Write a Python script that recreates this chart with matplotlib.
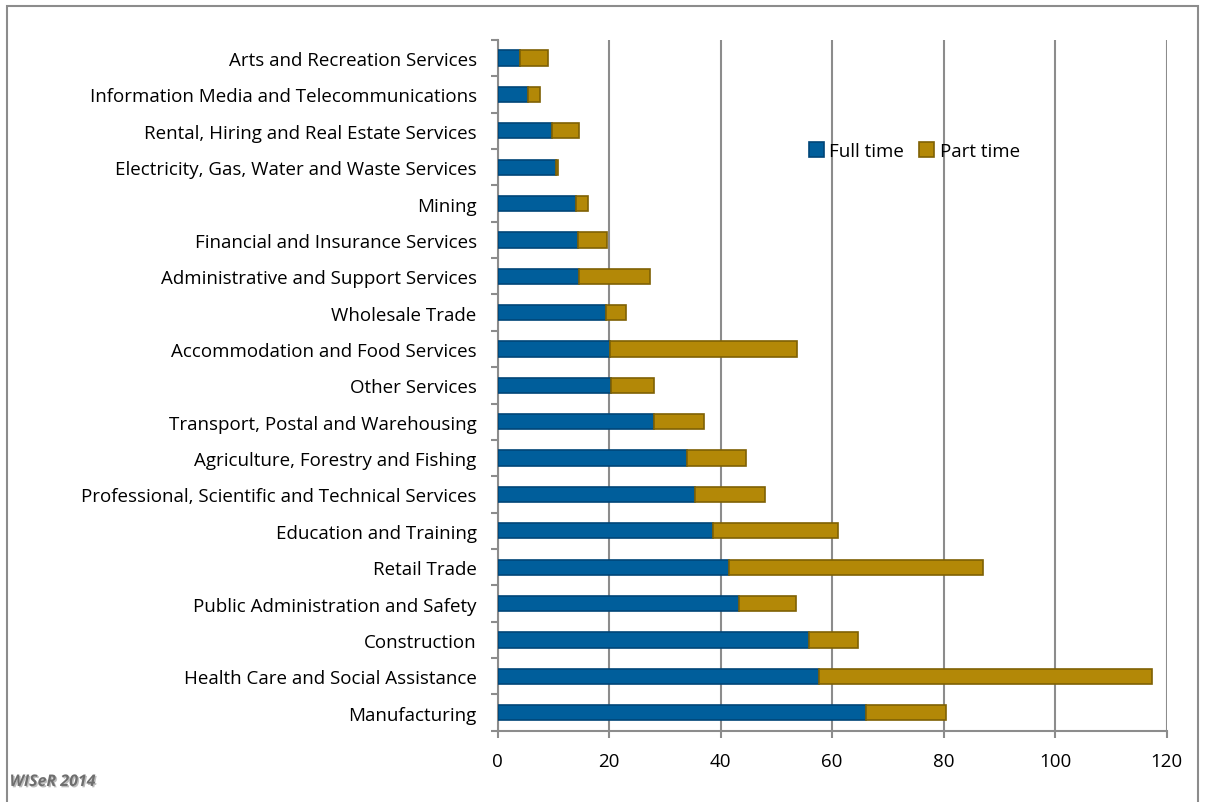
import numpy as np
import matplotlib.pyplot as plt
from matplotlib.patches import Rectangle
import matplotlib.patheffects as pe

# ------------------------------------
# Employment by industry (thousands)
# ------------------------------------
industries = [
    "Manufacturing",
    "Health Care and Social Assistance",
    "Construction",
    "Public Administration and Safety",
    "Retail Trade",
    "Education and Training",
    "Professional, Scientific and Technical Services",
    "Agriculture, Forestry and Fishing",
    "Transport, Postal and Warehousing",
    "Other Services",
    "Accommodation and Food Services",
    "Wholesale Trade",
    "Administrative and Support Services",
    "Financial and Insurance Services",
    "Mining",
    "Electricity, Gas, Water and Waste Services",
    "Rental, Hiring and Real Estate Services",
    "Information Media and Telecommunications",
    "Arts and Recreation Services",
]
full_time = [66.0, 57.7, 55.9, 43.3, 41.5, 38.7, 35.5, 34.0, 28.1, 20.3,
             20.2, 19.4, 14.7, 14.5, 14.0, 10.4, 9.8, 5.4, 4.0]
part_time = [14.4, 59.6, 8.7, 10.2, 45.5, 22.4, 12.5, 10.5, 9.0, 7.8,
             33.6, 3.7, 12.7, 5.1, 2.3, 0.4, 4.8, 2.3, 5.1]

blue = "#005E9B"
blue_edge = "#004578"
gold = "#B38807"
gold_edge = "#7F6104"
grey = "#8C8C8C"

plt.rcParams['font.family'] = ['Open Sans', 'DejaVu Sans']

fig = plt.figure(figsize=(12.05, 8.03), dpi=100)
ax = fig.add_axes([0.4129, 0.0887, 0.5552, 0.8603])

y = np.arange(len(industries))
ax.barh(y, full_time, height=0.42, color=blue, edgecolor=blue_edge,
        linewidth=1.2, label="Full time", zorder=3)
ax.barh(y, part_time, left=full_time, height=0.42, color=gold,
        edgecolor=gold_edge, linewidth=1.2, label="Part time", zorder=3)

ax.set_xlim(0, 120)
ax.set_ylim(-0.5, len(industries) - 0.5)
ax.set_xticks(np.arange(0, 121, 20))
ax.set_yticks(y)
ax.set_yticklabels(industries)
ax.set_yticks(np.arange(-0.5, len(industries), 1), minor=True)

ax.xaxis.grid(True, color=grey, linewidth=1.5, zorder=0)
ax.tick_params(axis='x', which='major', length=5, width=1.5, color=grey,
               labelsize=13.5, pad=10)
ax.tick_params(axis='y', which='major', length=0, labelsize=13.5, pad=15)
ax.tick_params(axis='y', which='minor', length=5, width=1.5, color=grey)

for side in ["top", "right"]:
    ax.spines[side].set_visible(False)
for side in ["left", "bottom"]:
    ax.spines[side].set_color(grey)
    ax.spines[side].set_linewidth(1.5)

ax.legend(loc="center left", bbox_to_anchor=(0.44, 0.839), ncol=2, frameon=False,
          fontsize=13.5, handlelength=0.8, handleheight=0.8, handletextpad=0.3,
          columnspacing=0.8)

# chart border
fig.patches.append(Rectangle((0.006, -0.01), 0.988, 1.001,
                             transform=fig.transFigure, fill=False,
                             edgecolor=grey, linewidth=1.5))

fig.text(0.008, 0.02, "WISeR 2014", fontsize=11.5, style="italic",
         fontweight="bold", color="#6E6E6E",
         path_effects=[pe.withSimplePatchShadow(offset=(1, -1), alpha=0.3)])

plt.savefig("out.png", dpi=100)
